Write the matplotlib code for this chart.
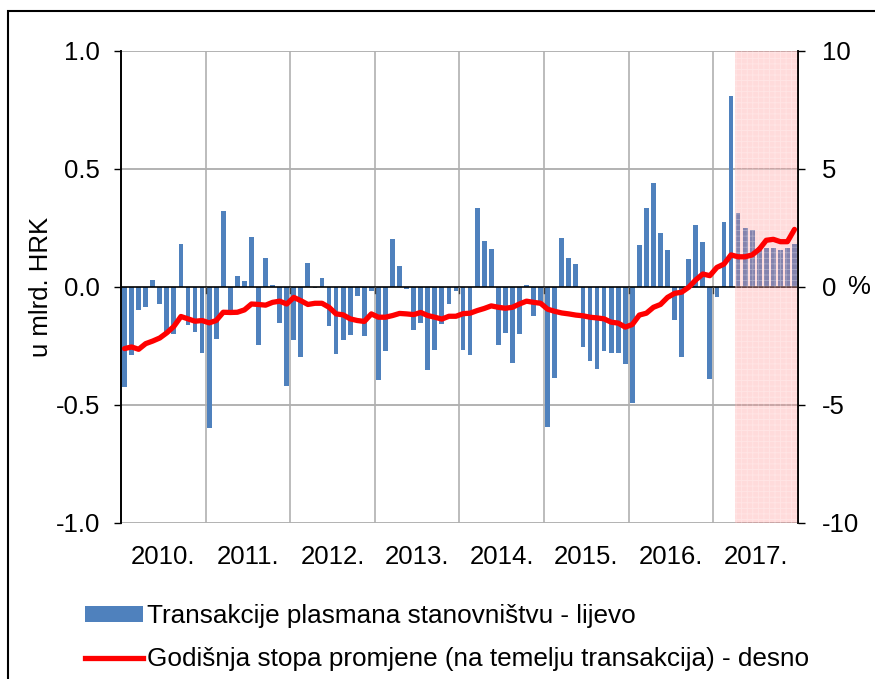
import numpy as np
import matplotlib
matplotlib.use('Agg')
import matplotlib.pyplot as plt
from matplotlib.patches import Patch, Rectangle
from matplotlib.lines import Line2D

plt.rcParams['font.family'] = ['Liberation Sans', 'DejaVu Sans']
plt.rcParams['hatch.linewidth'] = 0.6

# Data: monthly, Jan 2010 - Dec 2017
years = ['2010.', '2011.', '2012.', '2013.', '2014.', '2015.', '2016.', '2017.']

transakcije = [
    -0.423, -0.289, -0.097, -0.086, 0.031, -0.074, -0.198, -0.198, 0.183, -0.159, -0.191, -0.279,
    -0.596, -0.22, 0.324, -0.12, 0.046, 0.027, 0.212, -0.246, 0.124, 0.007, -0.152, -0.42,
    -0.225, -0.295, 0.101, -0.006, 0.039, -0.166, -0.285, -0.226, -0.205, -0.039, -0.209, -0.018,
    -0.392, -0.272, 0.202, 0.091, -0.007, -0.184, -0.153, -0.35, -0.268, -0.156, -0.073, -0.015,
    -0.265, -0.287, 0.333, 0.197, 0.163, -0.244, -0.197, -0.324, -0.2, 0.007, -0.124, -0.07,
    -0.594, -0.385, 0.206, 0.122, 0.096, -0.253, -0.315, -0.347, -0.27, -0.28, -0.28, -0.326,
    -0.493, 0.18, 0.333, 0.442, 0.23, 0.156, -0.138, -0.298, 0.118, 0.264, 0.191, -0.388,
    -0.044, 0.275, 0.809, 0.312, 0.251, 0.240, 0.17, 0.167, 0.167, 0.156, 0.167, 0.184,
]

stopa = [
    -2.61, -2.54, -2.64, -2.40, -2.29, -2.16, -1.94, -1.67, -1.25, -1.35, -1.45, -1.42,
    -1.52, -1.42, -1.07, -1.08, -1.07, -0.97, -0.72, -0.74, -0.77, -0.65, -0.60, -0.72,
    -0.44, -0.58, -0.74, -0.69, -0.69, -0.86, -1.14, -1.18, -1.35, -1.42, -1.46, -1.14,
    -1.28, -1.28, -1.21, -1.12, -1.14, -1.17, -1.08, -1.21, -1.28, -1.36, -1.24, -1.24,
    -1.13, -1.11, -1.00, -0.91, -0.80, -0.86, -0.90, -0.86, -0.72, -0.60, -0.65, -0.69,
    -0.94, -1.03, -1.10, -1.14, -1.19, -1.22, -1.28, -1.31, -1.35, -1.49, -1.53, -1.70,
    -1.59, -1.19, -1.11, -0.86, -0.74, -0.44, -0.27, -0.22, -0.01, 0.30, 0.55, 0.48,
    0.83, 0.97, 1.36, 1.28, 1.28, 1.36, 1.60, 1.98, 2.02, 1.92, 1.92, 2.44,
]

shade_start = 87  # first shaded month index (Apr 2017)

x = np.arange(len(transakcije))
fs = 18.5

fig = plt.figure(figsize=(8.75, 6.79), dpi=100)
ax1 = fig.add_axes([121 / 875, 1 - 523 / 679, 677 / 875, 472 / 679])
ax2 = ax1.twinx()

# Grid
for yv in [-1.0, -0.5, 0.5, 1.0]:
    ax1.axhline(yv, color='#a6a6a6', lw=1.2, zorder=0)
for i in range(1, len(years)):
    ax1.axvline(12 * i - 0.5, color='#b0b0b0', lw=1.2, zorder=0)

ax1.bar(x, transakcije, width=0.68, color='#4f81bd', zorder=2)
ax1.axhline(0, color='black', lw=1.2, zorder=3)
for i in range(1, len(years)):
    ax1.plot([12 * i - 0.5, 12 * i - 0.5], [0, -0.025], color='#404040', lw=1, zorder=3)

ax1.axvspan(shade_start - 0.5, len(x) - 0.5, facecolor='#ff8888', alpha=0.3,
            hatch='+++', edgecolor='white', lw=0, zorder=4)

ax2.plot(x, stopa, color='#ff0000', lw=3.8, solid_joinstyle='round', solid_capstyle='round')

ax1.set_xlim(-0.5, len(x) - 0.5)
ax1.set_ylim(-1.0, 1.0)
ax2.set_ylim(-10, 10)

ax1.set_yticks([-1.0, -0.5, 0.0, 0.5, 1.0])
ax1.set_yticklabels(['-1.0', '-0.5', '0.0', '0.5', '1.0'], fontsize=fs)
ax2.set_yticks([-10, -5, 0, 5, 10])
ax2.set_yticklabels(['-10', '-5', '0', '5', '10'], fontsize=fs)
ax1.set_xticks([12 * i + 5.5 for i in range(len(years))])
ax1.set_xticklabels(years, fontsize=fs)

ax1.tick_params(axis='x', length=0, pad=16)
ax1.tick_params(axis='y', length=5, width=1, pad=10, direction='out')
ax2.tick_params(axis='y', length=5, width=1, pad=12, direction='out')

ax1.set_ylabel('u mlrd. HRK', fontsize=fs, labelpad=2)
ax2.text(1.072, 0.5, '%', transform=ax2.transAxes, fontsize=fs, va='center', ha='left')

for a in (ax1, ax2):
    a.spines['top'].set_visible(False)
    a.spines['bottom'].set_visible(False)
    a.spines['left'].set_color('black')
    a.spines['right'].set_color('black')
    a.spines['left'].set_linewidth(1.2)
    a.spines['right'].set_linewidth(1.2)

handles = [
    Patch(facecolor='#4f81bd', edgecolor='none', label='Transakcije plasmana stanovništvu - lijevo'),
    Line2D([0], [0], color='#ff0000', lw=3.8, label='Godišnja stopa promjene (na temelju transakcija) - desno'),
]
fig.legend(handles=handles, loc='upper left', bbox_to_anchor=(75 / 875, 1 - 594 / 679),
           frameon=False, fontsize=18.8, handlelength=2.2, handleheight=0.55,
           handletextpad=0.15, labelspacing=0.72, borderaxespad=0)

fig.patches.append(Rectangle((8 / 875, -0.05), 1.1, 1 - 11 / 679 + 0.05,
                             transform=fig.transFigure, fill=False,
                             edgecolor='black', lw=1.5))

fig.savefig('out.png', dpi=100)
